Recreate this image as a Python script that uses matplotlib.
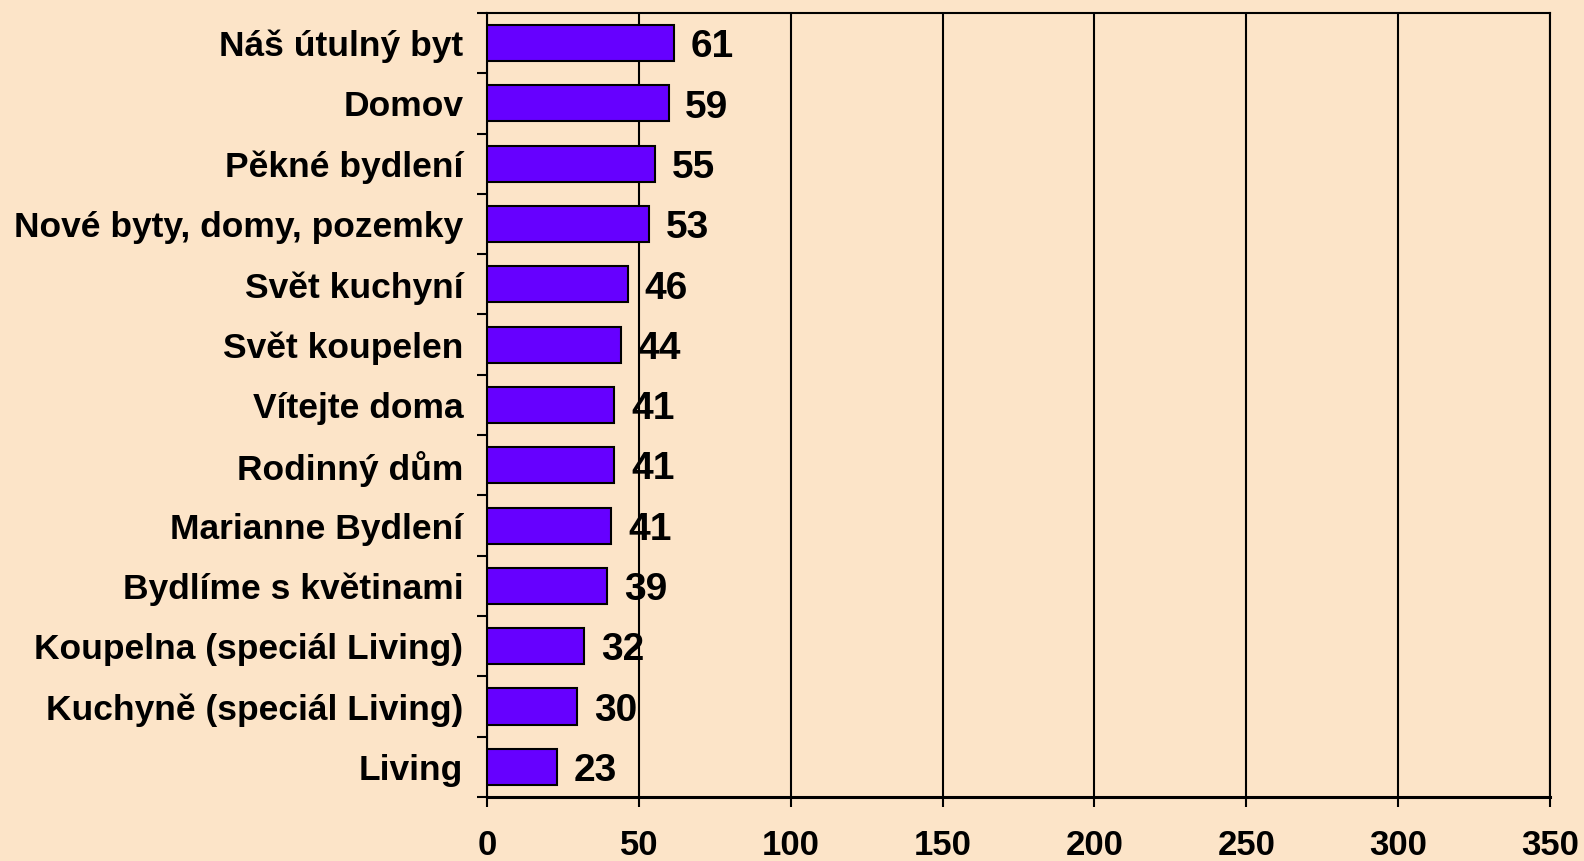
import numpy as np
import matplotlib.pyplot as plt
from matplotlib.ticker import FixedLocator, NullFormatter

plt.rcParams['font.family'] = ['Liberation Sans', 'DejaVu Sans']
plt.rcParams['font.weight'] = 'bold'

# Magazine titles (top to bottom) and their values
titles = ['Náš útulný byt', 'Domov', 'Pěkné bydlení', 'Nové byty, domy, pozemky',
          'Svět kuchyní', 'Svět koupelen', 'Vítejte doma', 'Rodinný dům',
          'Marianne Bydlení', 'Bydlíme s květinami', 'Koupelna (speciál Living)',
          'Kuchyně (speciál Living)', 'Living']
values = [61.5, 59.8, 55.5, 53.4, 46.4, 44.1, 42.0, 42.0, 41.0, 39.6, 32.1, 29.8, 23.2]
value_labels = ['61', '59', '55', '53', '46', '44', '41', '41', '41', '39', '32', '30', '23']
x_ticks = [0, 50, 100, 150, 200, 250, 300, 350]

bg = '#FCE4C8'
bar_color = '#6600FF'

fig = plt.figure(figsize=(15.84, 8.61), dpi=100, facecolor=bg)
ax = fig.add_axes([0.3074, 0.0743, 0.6711, 0.9107])
ax.set_facecolor(bg)

y = np.arange(len(titles))
ax.barh(y, values, height=0.6, color=bar_color, edgecolor='black', linewidth=1.5, zorder=3)

for yi, v, lab in zip(y, values, value_labels):
    ax.annotate(lab, (v, yi), xytext=(12, -3), textcoords='offset points',
                va='center', ha='left', fontsize=28, fontweight='bold', color='black')

ax.set_xlim(0, 350)
ax.set_ylim(len(titles) - 0.5, -0.5)
ax.set_xticks(x_ticks)
ax.set_xticklabels([str(t) for t in x_ticks])
ax.xaxis.grid(True, color='black', linewidth=1.5, zorder=0)
ax.set_axisbelow(True)

ax.set_yticks(y)
ax.set_yticklabels(titles)
ax.yaxis.set_minor_locator(FixedLocator(np.arange(-0.5, len(titles), 1.0)))
ax.yaxis.set_minor_formatter(NullFormatter())
ax.tick_params(axis='y', which='major', length=0, pad=17, labelsize=25.5)
ax.tick_params(axis='y', which='minor', length=7, width=1.5, direction='out')
ax.tick_params(axis='x', length=7, width=1.5, direction='out', pad=16, labelsize=25)

for s in ax.spines.values():
    s.set_color('black')
    s.set_linewidth(1.5)
ax.spines['bottom'].set_linewidth(2.2)

fig.savefig('out.png', dpi=100, facecolor=bg)
